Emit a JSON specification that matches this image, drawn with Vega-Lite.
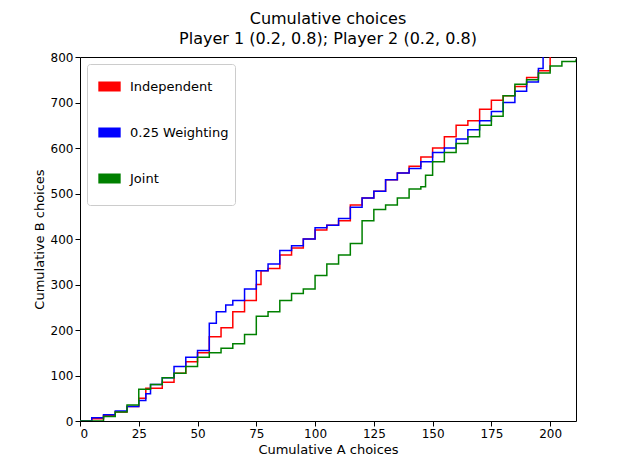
{
"$schema":"https://vega.github.io/schema/vega-lite/v6.json",
"width":496,"height":364,
"autosize":{"type":"none"},
"padding":{"left":80,"top":57,"right":64,"bottom":52},
"title":{"text":["Cumulative choices","Player 1 (0.2, 0.8); Player 2 (0.2, 0.8)"],"font":"DejaVu Sans","fontSize":16,"fontWeight":"normal","offset":4,"lineHeight":20},
"config":{"view":{"stroke":"black"},"font":"DejaVu Sans"},
"data":{"values":[
{"s":"Independent","a":0,"b":0},{"s":"Independent","a":5,"b":5},{"s":"Independent","a":10,"b":12},{"s":"Independent","a":15,"b":20},{"s":"Independent","a":20,"b":32},{"s":"Independent","a":25,"b":50},{"s":"Independent","a":28,"b":72},{"s":"Independent","a":35,"b":85},{"s":"Independent","a":40,"b":105},{"s":"Independent","a":45,"b":130},{"s":"Independent","a":50,"b":150},{"s":"Independent","a":55,"b":185},{"s":"Independent","a":60,"b":205},{"s":"Independent","a":65,"b":240},{"s":"Independent","a":70,"b":265},{"s":"Independent","a":75,"b":300},{"s":"Independent","a":77,"b":330},{"s":"Independent","a":80,"b":335},{"s":"Independent","a":85,"b":365},{"s":"Independent","a":90,"b":380},{"s":"Independent","a":95,"b":400},{"s":"Independent","a":100,"b":420},{"s":"Independent","a":105,"b":430},{"s":"Independent","a":110,"b":440},{"s":"Independent","a":115,"b":475},{"s":"Independent","a":120,"b":490},{"s":"Independent","a":125,"b":505},{"s":"Independent","a":130,"b":530},{"s":"Independent","a":135,"b":545},{"s":"Independent","a":140,"b":560},{"s":"Independent","a":145,"b":580},{"s":"Independent","a":150,"b":600},{"s":"Independent","a":155,"b":625},{"s":"Independent","a":160,"b":650},{"s":"Independent","a":165,"b":660},{"s":"Independent","a":170,"b":685},{"s":"Independent","a":175,"b":705},{"s":"Independent","a":180,"b":715},{"s":"Independent","a":185,"b":735},{"s":"Independent","a":190,"b":755},{"s":"Independent","a":195,"b":770},{"s":"Independent","a":200,"b":800},
{"s":"0.25 Weighting","a":0,"b":0},{"s":"0.25 Weighting","a":5,"b":7},{"s":"0.25 Weighting","a":10,"b":14},{"s":"0.25 Weighting","a":15,"b":22},{"s":"0.25 Weighting","a":20,"b":32},{"s":"0.25 Weighting","a":25,"b":45},{"s":"0.25 Weighting","a":28,"b":60},{"s":"0.25 Weighting","a":30,"b":80},{"s":"0.25 Weighting","a":35,"b":95},{"s":"0.25 Weighting","a":40,"b":120},{"s":"0.25 Weighting","a":45,"b":140},{"s":"0.25 Weighting","a":50,"b":155},{"s":"0.25 Weighting","a":55,"b":215},{"s":"0.25 Weighting","a":58,"b":240},{"s":"0.25 Weighting","a":62,"b":255},{"s":"0.25 Weighting","a":65,"b":265},{"s":"0.25 Weighting","a":70,"b":290},{"s":"0.25 Weighting","a":75,"b":330},{"s":"0.25 Weighting","a":80,"b":345},{"s":"0.25 Weighting","a":85,"b":375},{"s":"0.25 Weighting","a":90,"b":385},{"s":"0.25 Weighting","a":95,"b":400},{"s":"0.25 Weighting","a":100,"b":425},{"s":"0.25 Weighting","a":105,"b":430},{"s":"0.25 Weighting","a":110,"b":445},{"s":"0.25 Weighting","a":115,"b":470},{"s":"0.25 Weighting","a":120,"b":490},{"s":"0.25 Weighting","a":125,"b":505},{"s":"0.25 Weighting","a":130,"b":530},{"s":"0.25 Weighting","a":135,"b":545},{"s":"0.25 Weighting","a":140,"b":555},{"s":"0.25 Weighting","a":145,"b":570},{"s":"0.25 Weighting","a":150,"b":590},{"s":"0.25 Weighting","a":155,"b":600},{"s":"0.25 Weighting","a":160,"b":620},{"s":"0.25 Weighting","a":165,"b":640},{"s":"0.25 Weighting","a":170,"b":660},{"s":"0.25 Weighting","a":175,"b":680},{"s":"0.25 Weighting","a":180,"b":700},{"s":"0.25 Weighting","a":185,"b":725},{"s":"0.25 Weighting","a":190,"b":745},{"s":"0.25 Weighting","a":195,"b":775},{"s":"0.25 Weighting","a":197,"b":800},
{"s":"Joint","a":0,"b":0},{"s":"Joint","a":10,"b":10},{"s":"Joint","a":15,"b":20},{"s":"Joint","a":20,"b":35},{"s":"Joint","a":25,"b":70},{"s":"Joint","a":30,"b":80},{"s":"Joint","a":35,"b":95},{"s":"Joint","a":40,"b":105},{"s":"Joint","a":45,"b":120},{"s":"Joint","a":50,"b":140},{"s":"Joint","a":55,"b":150},{"s":"Joint","a":60,"b":160},{"s":"Joint","a":65,"b":170},{"s":"Joint","a":70,"b":190},{"s":"Joint","a":75,"b":230},{"s":"Joint","a":80,"b":240},{"s":"Joint","a":85,"b":265},{"s":"Joint","a":90,"b":280},{"s":"Joint","a":95,"b":290},{"s":"Joint","a":100,"b":320},{"s":"Joint","a":105,"b":345},{"s":"Joint","a":110,"b":365},{"s":"Joint","a":115,"b":390},{"s":"Joint","a":120,"b":440},{"s":"Joint","a":125,"b":465},{"s":"Joint","a":130,"b":475},{"s":"Joint","a":135,"b":490},{"s":"Joint","a":140,"b":510},{"s":"Joint","a":145,"b":515},{"s":"Joint","a":147,"b":540},{"s":"Joint","a":150,"b":570},{"s":"Joint","a":155,"b":590},{"s":"Joint","a":160,"b":610},{"s":"Joint","a":165,"b":625},{"s":"Joint","a":170,"b":650},{"s":"Joint","a":175,"b":670},{"s":"Joint","a":180,"b":715},{"s":"Joint","a":185,"b":740},{"s":"Joint","a":190,"b":750},{"s":"Joint","a":195,"b":765},{"s":"Joint","a":200,"b":780},{"s":"Joint","a":205,"b":790},{"s":"Joint","a":211,"b":795}
]},
"mark":{"type":"line","interpolate":"step-after","strokeWidth":1.5,"clip":true},
"encoding":{
"x":{"field":"a","type":"quantitative","scale":{"domain":[0,211],"nice":false},"axis":{"title":"Cumulative A choices","values":[0,25,50,75,100,125,150,175,200],"grid":false,"labelFontSize":12,"titleFontSize":13,"titleFontWeight":"normal","domain":false,"tickColor":"black","labelColor":"black","titleColor":"black"}},
"y":{"field":"b","type":"quantitative","scale":{"domain":[0,800],"nice":false},"axis":{"title":"Cumulative B choices","values":[0,100,200,300,400,500,600,700,800],"grid":false,"labelFontSize":12,"titleFontSize":13,"titleFontWeight":"normal","domain":false,"tickColor":"black","labelColor":"black","titleColor":"black"}},
"color":{"field":"s","type":"nominal","sort":["Independent","0.25 Weighting","Joint"],"scale":{"domain":["Independent","0.25 Weighting","Joint"],"range":["#ff0000","#0000ff","#008000"]},
"legend":{"title":null,"orient":"top-left","offset":7,"labelFontSize":13,"symbolType":"stroke","symbolSize":500,"symbolStrokeWidth":10,"strokeColor":"#cccccc","fillColor":"white","padding":6,"rowPadding":5,"cornerRadius":3}}
}
}
